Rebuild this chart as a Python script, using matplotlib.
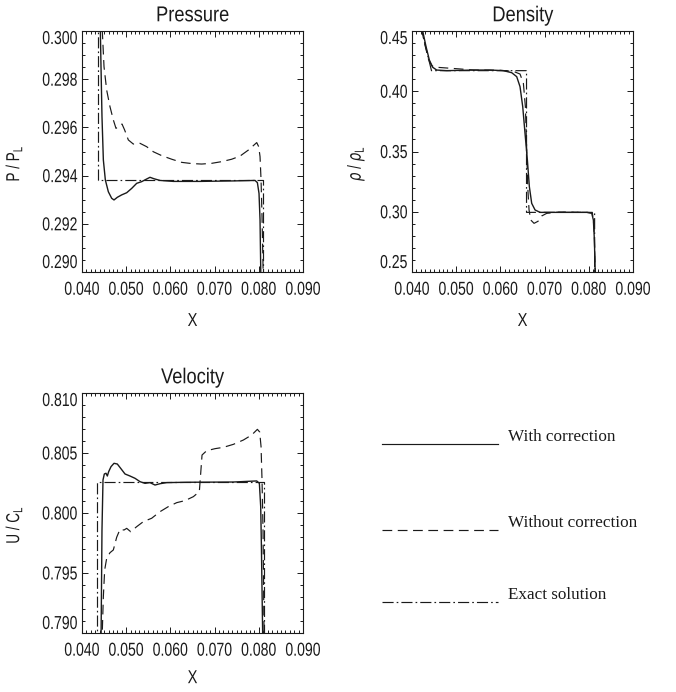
import matplotlib
matplotlib.use("Agg")
import matplotlib.pyplot as plt
from matplotlib.lines import Line2D
from matplotlib.ticker import MultipleLocator
from matplotlib.patheffects import AbstractPathEffect
from matplotlib.transforms import Affine2D

plt.rcParams["font.family"] = ["Liberation Sans", "DejaVu Sans"]
plt.rcParams["lines.scale_dashes"] = False

# ---- pressure ----
p_exact_x = [0.0437, 0.0437, 0.0810, 0.0810]
p_exact_y = [0.3015, 0.29382, 0.29382, 0.2890]

p_with_x = [0.0440, 0.0443, 0.04452, 0.04483, 0.04528, 0.04596, 0.04671, 0.04724,
            0.04799, 0.04897, 0.05011, 0.05124, 0.05237, 0.05350, 0.05463, 0.05538,
            0.05629, 0.05765, 0.06066, 0.06670, 0.07424, 0.07914, 0.07967, 0.08004,
            0.08027, 0.08042, 0.0805]
p_with_y = [0.3015, 0.29852, 0.29645, 0.29465, 0.29382, 0.29333, 0.29306, 0.29299,
            0.29310, 0.29320, 0.29329, 0.29347, 0.29368, 0.29375, 0.29386, 0.29393,
            0.29387, 0.29380, 0.29376, 0.29376, 0.29378, 0.29380, 0.29371, 0.29326,
            0.29216, 0.29022, 0.2890]

p_without_x = [0.0442, 0.04498, 0.04558, 0.04633, 0.04709, 0.04769, 0.04837, 0.04905,
               0.04965, 0.05048, 0.05161, 0.05312, 0.05463, 0.05614, 0.05802, 0.06029,
               0.06255, 0.06481, 0.06707, 0.06933, 0.07160, 0.07386, 0.07574, 0.07763,
               0.07891, 0.07952, 0.07997, 0.08027, 0.08050, 0.08072, 0.08095, 0.0811]
p_without_y = [0.3015, 0.29852, 0.29755, 0.29686, 0.29631, 0.29596, 0.29606, 0.29614,
               0.29589, 0.29548, 0.29531, 0.29534, 0.29520, 0.29499, 0.29483, 0.29468,
               0.29455, 0.29450, 0.29448, 0.29451, 0.29458, 0.29468, 0.29481, 0.29506,
               0.29527, 0.29537, 0.29520, 0.29479, 0.29382, 0.29230, 0.29022, 0.2890]

# ---- density ----
d_exact_x = [0.0418, 0.0444, 0.0659, 0.0659, 0.0813, 0.0813]
d_exact_y = [0.4560, 0.4171, 0.4171, 0.2995, 0.2995, 0.2400]

d_with_x = [0.0423, 0.04317, 0.04392, 0.04468, 0.04558, 0.04784, 0.05388, 0.05765,
            0.06066, 0.06255, 0.06368, 0.06443, 0.06504, 0.06556, 0.06609, 0.06654,
            0.06707, 0.06783, 0.06896, 0.07273, 0.07952, 0.08065, 0.08102, 0.08125,
            0.0814, 0.0815]
d_with_y = [0.4520, 0.4370, 0.4259, 0.4199, 0.4176, 0.4171, 0.4176, 0.4176,
            0.4171, 0.4154, 0.4121, 0.4038, 0.3872, 0.3651, 0.3430, 0.3208,
            0.3070, 0.3015, 0.2995, 0.2995, 0.2995, 0.2987, 0.2932, 0.2766,
            0.2544, 0.2400]

d_without_x = [0.0421, 0.04302, 0.04377, 0.04452, 0.04558, 0.04784, 0.05086, 0.05388,
               0.05991, 0.06293, 0.06443, 0.06519, 0.06564, 0.06594, 0.06617, 0.06647,
               0.06685, 0.06760, 0.06850, 0.06933, 0.07047, 0.07348, 0.07952, 0.0808,
               0.08117, 0.0814, 0.0816]
d_without_y = [0.4520, 0.4370, 0.4259, 0.4210, 0.4199, 0.4193, 0.4185, 0.4176,
               0.4174, 0.4165, 0.4143, 0.4066, 0.3872, 0.3513, 0.3208, 0.3015,
               0.2932, 0.2904, 0.2921, 0.2965, 0.2987, 0.2998, 0.2995, 0.2992,
               0.2876, 0.2544, 0.2400]

# ---- velocity ----
u_exact_x = [0.0435, 0.0435, 0.0811, 0.0811]
u_exact_y = [0.7890, 0.80256, 0.80256, 0.7890]

u_with_x = [0.0443, 0.04452, 0.04475, 0.04505, 0.04543, 0.04573, 0.04603, 0.04656,
            0.04724, 0.04799, 0.04875, 0.04973, 0.05086, 0.05199, 0.05312, 0.05425,
            0.05538, 0.05651, 0.05765, 0.05916, 0.06368, 0.07424, 0.07952, 0.08012,
            0.08042, 0.08057, 0.08072, 0.0809]
u_with_y = [0.7890, 0.79858, 0.80275, 0.80325, 0.80331, 0.80308, 0.80344, 0.80386,
            0.80414, 0.80408, 0.80372, 0.80325, 0.80308, 0.80289, 0.80261, 0.80247,
            0.80253, 0.80233, 0.80244, 0.80253, 0.80256, 0.80258, 0.80267, 0.80247,
            0.80053, 0.79747, 0.79358, 0.7890]

u_without_x = [0.0445, 0.04483, 0.04513, 0.04558, 0.04633, 0.04709, 0.04784, 0.04860,
               0.04950, 0.05011, 0.05101, 0.05237, 0.05388, 0.05576, 0.05765, 0.05953,
               0.06142, 0.06330, 0.06519, 0.06654, 0.06685, 0.06715, 0.06820, 0.07009,
               0.07197, 0.07424, 0.07650, 0.07838, 0.07967, 0.08019, 0.08050, 0.08072,
               0.08095, 0.0812]
u_without_y = [0.7890, 0.79303, 0.79525, 0.79622, 0.79669, 0.79692, 0.79797, 0.79864,
               0.79858, 0.79872, 0.79844, 0.79886, 0.79928, 0.79956, 0.80011, 0.80053,
               0.80086, 0.80103, 0.80136, 0.80178, 0.80331, 0.80483, 0.80519, 0.80536,
               0.80547, 0.80572, 0.80608, 0.80650, 0.80697, 0.80675, 0.80553, 0.80275,
               0.79858, 0.7890]

x_ticks = [0.040, 0.050, 0.060, 0.070, 0.080, 0.090]
legend_labels = ["With correction", "Without correction", "Exact solution"]

LW = 0.85
INK = "#1a1a1a"
DASH = (0, (7, 4))
DASHDOT = (0, (8, 2.2, 1.2, 2.2))


class Narrow(AbstractPathEffect):
    """Squeeze glyph outlines horizontally, like a condensed face."""

    def __init__(self, sx=0.78, anchor="center"):
        super().__init__()
        self.sx = sx
        self.anchor = anchor

    def draw_path(self, renderer, gc, tpath, affine, rgbFace=None):
        ext = tpath.get_extents()
        if self.anchor == "right":
            cx = ext.x1
        elif self.anchor == "left":
            cx = ext.x0
        else:
            cx = 0.5 * (ext.x0 + ext.x1)
        t = Affine2D().translate(-cx, 0).scale(self.sx, 1).translate(cx, 0) + affine
        renderer.draw_path(gc, tpath, t, rgbFace)


fig = plt.figure(figsize=(6.76, 6.92), dpi=100)


def panel(rect, title, ylabel, ylim, yticks, yfmt, yminor, curves, label_x, xlab_y):
    ax = fig.add_axes(rect)
    ex, ey, wx, wy, nx, ny = curves
    ax.plot(ex, ey, color=INK, lw=LW, linestyle=DASHDOT)
    ax.plot(nx, ny, color=INK, lw=LW, linestyle=DASH)
    ax.plot(wx, wy, color=INK, lw=LW + 0.15)
    ax.set_xlim(0.040, 0.090)
    ax.set_ylim(*ylim)
    ax.set_xticks(x_ticks)
    ax.set_xticklabels(["%.3f" % t for t in x_ticks])
    ax.set_yticks(yticks)
    ax.set_yticklabels([yfmt % t for t in yticks])
    ax.xaxis.set_minor_locator(MultipleLocator(0.001))
    ax.yaxis.set_minor_locator(MultipleLocator(yminor))
    ax.tick_params(which="both", direction="in", top=True, right=True,
                   width=0.7, labelsize=13.5, colors=INK)
    ax.tick_params(which="major", length=4)
    ax.tick_params(which="minor", length=2)
    ax.tick_params(axis="x", pad=7)
    ax.tick_params(axis="y", pad=3)
    labs = ax.get_yticklabels()
    labs[0].set_va("bottom")
    labs[-1].set_va("top")
    for s in ax.spines.values():
        s.set_linewidth(0.8)
        s.set_color(INK)
    ttl = ax.set_title(title, fontsize=15.5, pad=7, color=INK)
    yl = ax.set_ylabel(ylabel, fontsize=13.5, color=INK)
    ax.yaxis.set_label_coords(label_x, 0.45)
    xl = ax.set_xlabel("X", fontsize=13.5, color=INK)
    ax.xaxis.set_label_coords(0.5, xlab_y)

    ttl.set_path_effects([Narrow(0.85)])
    yl.set_path_effects([Narrow(0.72)])
    xl.set_path_effects([Narrow(0.78)])
    for t in ax.get_xticklabels():
        t.set_path_effects([Narrow(0.75)])
    for t in labs:
        t.set_path_effects([Narrow(0.75, "right")])
    return ax


panel([0.1213, 0.6069, 0.327, 0.3483], "Pressure", r"P / P$_\mathregular{L}$",
      (0.290, 0.300), [0.290, 0.292, 0.294, 0.296, 0.298, 0.300], "%.3f", 0.0005,
      (p_exact_x, p_exact_y, p_with_x, p_with_y, p_without_x, p_without_y),
      -0.26, -0.17)

panel([0.6095, 0.6069, 0.327, 0.3483], "Density", r"$\rho$ / $\rho_\mathregular{L}$",
      (0.25, 0.45), [0.25, 0.30, 0.35, 0.40, 0.45], "%.2f", 0.01,
      (d_exact_x, d_exact_y, d_with_x, d_with_y, d_without_x, d_without_y),
      -0.205, -0.17)

panel([0.1213, 0.0853, 0.327, 0.3468], "Velocity", r"U / C$_\mathregular{L}$",
      (0.790, 0.810), [0.790, 0.795, 0.800, 0.805, 0.810], "%.3f", 0.001,
      (u_exact_x, u_exact_y, u_with_x, u_with_y, u_without_x, u_without_y),
      -0.26, -0.155)

# legend drawn as separate samples with serif labels
styles = ["-", DASH, DASHDOT]
line_y = [0.3584, 0.2341, 0.1301]
text_y = [0.3627, 0.2384, 0.1340]
for lab, ls, ly, ty in zip(legend_labels, styles, line_y, text_y):
    fig.add_artist(Line2D([0.565, 0.737], [ly, ly], transform=fig.transFigure,
                          color=INK, lw=LW, linestyle=ls))
    fig.text(0.7515, ty, lab, family="Liberation Serif", fontsize=12.3,
             va="baseline", ha="left", color=INK)

fig.savefig("out.png", dpi=100)
